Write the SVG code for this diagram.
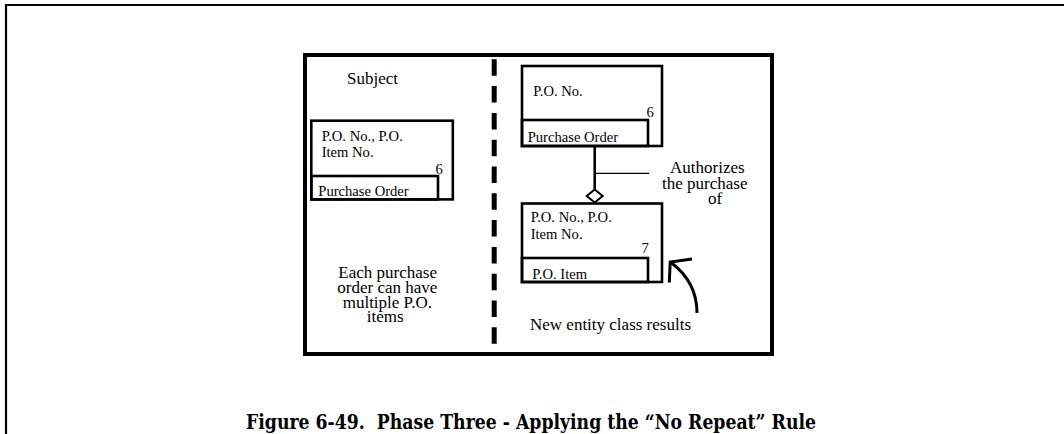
<svg xmlns="http://www.w3.org/2000/svg" width="1064" height="434" viewBox="0 0 1064 434">
<style>
.t{font-family:"Liberation Serif","Times New Roman",serif;fill:#000}
.s17{font-size:17px}
.s15{font-size:14.6px}
.box{fill:#fff;stroke:#000;stroke-width:2.6}
.inner{fill:none;stroke:#000;stroke-width:2.6}
.cap{font-family:"DejaVu Serif","Liberation Serif",serif;font-weight:bold;font-size:21px;fill:#000}
</style>
<rect width="1064" height="434" fill="#fff"/>
<g id="outer-frame">
<polyline points="6,434 6,5 1064,5" fill="none" stroke="#000" stroke-width="2.2"/>
</g>
<g id="panel">
<rect x="305" y="55" width="467" height="299" fill="none" stroke="#000" stroke-width="4"/>
<line x1="494.2" y1="59.3" x2="494.2" y2="344" stroke="#000" stroke-width="5" stroke-dasharray="16.5 10.3"/>
</g>
<g id="subject-label">
<text class="t s17" x="347" y="83.5">Subject</text>
</g>
<g id="entity-left">
<rect class="box" x="311.3" y="120.7" width="141.5" height="78.7"/>
<rect class="inner" x="311.3" y="176" width="126.7" height="23.4"/>
<text class="t s15" x="321.7" y="140.7">P.O. No., P.O.</text>
<text class="t s15" x="321.7" y="156.7">Item No.</text>
<text class="t s15" x="435.5" y="174">6</text>
<text class="t s15" x="318.3" y="195.7">Purchase Order</text>
</g>
<g id="entity-purchase-order">
<rect class="box" x="522" y="66" width="140" height="80"/>
<rect class="inner" x="522" y="120" width="126" height="26"/>
<text class="t s15" x="533.3" y="95.7">P.O. No.</text>
<text class="t s15" x="646.5" y="117.3">6</text>
<text class="t s15" x="527.7" y="141.7">Purchase Order</text>
</g>
<g id="entity-po-item">
<rect class="box" x="522" y="203.5" width="140" height="78.5"/>
<rect class="inner" x="522" y="258" width="126" height="24"/>
<text class="t s15" x="530.7" y="222.3">P.O. No., P.O.</text>
<text class="t s15" x="530.7" y="239">Item No.</text>
<text class="t s15" x="641.5" y="253.3">7</text>
<text class="t s15" x="532.3" y="279">P.O. Item</text>
</g>
<g id="connectors">
<line x1="594.7" y1="147" x2="594.7" y2="189.5" stroke="#000" stroke-width="2.6"/>
<polygon points="594.7,189.5 602.7,196 594.7,202.5 586.7,196" fill="#fff" stroke="#000" stroke-width="2"/>
<line x1="596" y1="173.3" x2="649.3" y2="173.3" stroke="#000" stroke-width="1.3"/>
</g>
<g id="relationship-label">
<text class="t s17" x="670" y="173.3">Authorizes</text>
<text class="t s17" x="662" y="189">the purchase</text>
<text class="t s17" x="708" y="204.3">of</text>
</g>
<g id="note-left">
<text class="t s17" x="338.3" y="278.3">Each purchase</text>
<text class="t s17" x="337.3" y="293.3">order can have</text>
<text class="t s17" x="342.7" y="307.5">multiple P.O.</text>
<text class="t s17" x="366.7" y="321.7">items</text>
</g>
<g id="new-entity-note">
<path d="M697,313 C697,292 689,276 671,262.5" fill="none" stroke="#000" stroke-width="3"/>
<path d="M669.3,282.5 L670.2,262 L692,259" fill="none" stroke="#000" stroke-width="3"/>
<text class="t s17" x="530" y="330">New entity class results</text>
</g>
<g id="caption">
<text class="cap" x="246" y="428.5" textLength="570" lengthAdjust="spacingAndGlyphs" xml:space="preserve">Figure 6-49.  Phase Three - Applying the “No Repeat” Rule</text>
</g>
</svg>
